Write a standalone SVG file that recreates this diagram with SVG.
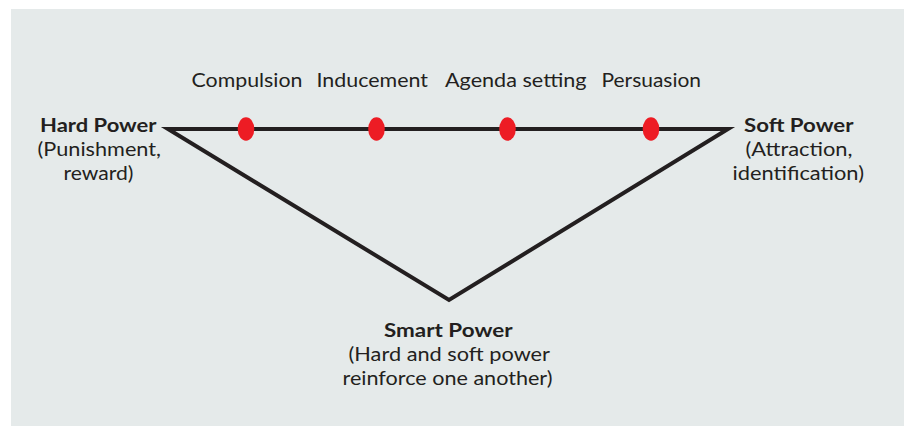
<svg xmlns="http://www.w3.org/2000/svg" width="905" height="426" viewBox="0 0 905 426">
<style>
text{font-family:Lato,"Open Sans","DejaVu Sans",sans-serif;fill:#231f20;font-size:19.5px}
.b{font-weight:bold}
.dot{fill:#ed1c24}
.edge{fill:none;stroke:#231f20;stroke-width:4;stroke-linejoin:miter;stroke-miterlimit:20}
</style>
<rect x="0" y="0" width="905" height="426" fill="#ffffff"/>
<rect x="11" y="9" width="893" height="417" fill="#e5eaea"/>
<g id="connectors">
<polygon class="edge" points="168,129 728,129 449,300"/>
</g>
<g id="compulsion">
<ellipse class="dot" cx="246" cy="129" rx="8.3" ry="11.8"/>
<text x="191.5" y="86.5" textLength="111" lengthAdjust="spacingAndGlyphs">Compulsion</text>
</g>
<g id="inducement">
<ellipse class="dot" cx="376.5" cy="129" rx="8.3" ry="11.8"/>
<text x="316.5" y="86.5" textLength="111.5" lengthAdjust="spacingAndGlyphs">Inducement</text>
</g>
<g id="agenda-setting">
<ellipse class="dot" cx="507.5" cy="129" rx="8.3" ry="11.8"/>
<text x="445" y="86.5" textLength="141.5" lengthAdjust="spacingAndGlyphs">Agenda setting</text>
</g>
<g id="persuasion">
<ellipse class="dot" cx="651" cy="129" rx="8.3" ry="11.8"/>
<text x="601.5" y="86.5" textLength="99.5" lengthAdjust="spacingAndGlyphs">Persuasion</text>
</g>
<g id="hard-power">
<text class="b" x="40" y="131.5" textLength="116.5" lengthAdjust="spacingAndGlyphs">Hard Power</text>
<text x="37.5" y="155.5" textLength="123.5" lengthAdjust="spacingAndGlyphs">(Punishment,</text>
<text x="63.5" y="179.5" textLength="70" lengthAdjust="spacingAndGlyphs">reward)</text>
</g>
<g id="soft-power">
<text class="b" x="744" y="131.5" textLength="109.5" lengthAdjust="spacingAndGlyphs">Soft Power</text>
<text x="745.5" y="155.5" textLength="107" lengthAdjust="spacingAndGlyphs">(Attraction,</text>
<text x="732.5" y="179.5" textLength="131.5" lengthAdjust="spacingAndGlyphs">identification)</text>
</g>
<g id="smart-power">
<text class="b" x="384" y="336.5" textLength="128.5" lengthAdjust="spacingAndGlyphs">Smart Power</text>
<text x="348.5" y="360.5" textLength="201.5" lengthAdjust="spacingAndGlyphs">(Hard and soft power</text>
<text x="342.5" y="384.5" textLength="210" lengthAdjust="spacingAndGlyphs">reinforce one another)</text>
</g>
</svg>
